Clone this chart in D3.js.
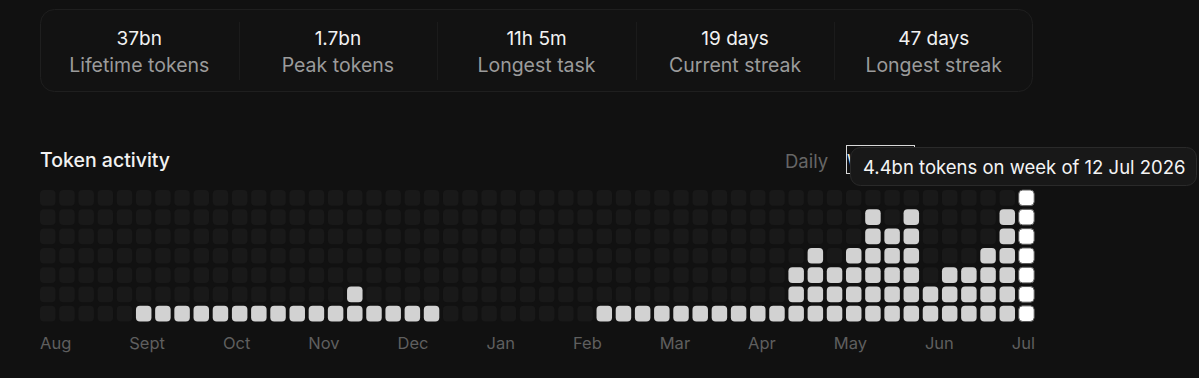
<!DOCTYPE html>
<html>
<head>
<meta charset="utf-8">
<script src="https://cdn.jsdelivr.net/npm/d3@7"></script>
<style>
  html, body { margin: 0; padding: 0; background: #111111; }
  svg { display: block; font-family: Inter, "Noto Sans", sans-serif; }
</style>
</head>
<body>
<div id="chart"></div>
<script>
var w = 1199,
    h = 378;

// stats row
var statValues = ["37bn", "1.7bn", "11h 5m", "19 days", "47 days"];
var statLabels = ["Lifetime tokens", "Peak tokens", "Longest task", "Current streak", "Longest streak"];

// month tick labels
var months = ["Aug", "Sept", "Oct", "Nov", "Dec", "Jan", "Feb", "Mar", "Apr", "May", "Jun", "Jul"];

// weekly tokens in bn, oldest first (52 weeks)
var weekTokens = [
    0, 0, 0, 0, 0,
    0.12, 0.18, 0.15, 0.2, 0.14, 0.16, 0.22, 0.19, 0.13, 0.17, 0.21, 0.8, 0.16, 0.14, 0.18, 0.12,
    0, 0, 0, 0, 0, 0, 0, 0,
    0.22, 0.3, 0.26, 0.19, 0.28, 0.33, 0.24, 0.27, 0.35, 0.4,
    1.5, 2.2, 1.6, 2.0, 3.4, 2.9, 3.6, 1.1, 1.5, 1.7, 2.4, 3.5, 4.4
];
var lastWeek = new Date(2026, 6, 12);
var rows = 7;

var svg = d3.select("#chart").append("svg")
    .attr("width", w)
    .attr("height", h);

svg.append("rect").attr("width", w).attr("height", h).attr("fill", "#111111");

// ---- stats box
var sx = d3.scaleBand().domain(d3.range(statValues.length)).range([40, 1033]);

svg.append("rect")
    .attr("x", 40.5).attr("y", 9.5)
    .attr("width", 992).attr("height", 82)
    .attr("rx", 14)
    .attr("fill", "#121212")
    .attr("stroke", "#1f1f1f");

svg.selectAll(".divider")
    .data(d3.range(1, statValues.length))
    .enter().append("line")
    .attr("class", "divider")
    .attr("x1", function (d) { return Math.round(sx(d)) + 0.5; })
    .attr("x2", function (d) { return Math.round(sx(d)) + 0.5; })
    .attr("y1", 22).attr("y2", 80)
    .attr("stroke", "#1b1b1b");

svg.selectAll(".statval")
    .data(statValues)
    .enter().append("text")
    .attr("class", "statval")
    .attr("x", function (d, i) { return sx(i) + sx.bandwidth() / 2; })
    .attr("y", 45)
    .attr("text-anchor", "middle")
    .style("font-size", "19px")
    .attr("fill", "#f2f2f2")
    .text(function (d) { return d; });

svg.selectAll(".statlabel")
    .data(statLabels)
    .enter().append("text")
    .attr("class", "statlabel")
    .attr("x", function (d, i) { return sx(i) + sx.bandwidth() / 2; })
    .attr("y", 72)
    .attr("text-anchor", "middle")
    .style("font-size", "19.5px")
    .attr("fill", "#9b9b9b")
    .text(function (d) { return d; });

// ---- header
svg.append("text")
    .attr("x", 40).attr("y", 167)
    .style("font-size", "19.5px")
    .style("font-weight", 500)
    .attr("fill", "#f2f2f2")
    .text("Token activity");

svg.append("text")
    .attr("x", 785).attr("y", 168)
    .style("font-size", "18.5px")
    .attr("fill", "#666666")
    .text("Daily");

// selected toggle, mostly hidden behind the tooltip
svg.append("clipPath").attr("id", "toggle-clip")
    .append("rect").attr("x", 846).attr("y", 140).attr("width", 5).attr("height", 40);

svg.append("text")
    .attr("x", 847).attr("y", 168)
    .attr("clip-path", "url(#toggle-clip)")
    .style("font-size", "18.5px")
    .attr("fill", "#e8e8e8")
    .text("Weekly");

svg.append("rect")
    .attr("x", 846.5).attr("y", 145.5)
    .attr("width", 68).attr("height", 28)
    .attr("fill", "none")
    .attr("stroke", "#d8d8d8");

// ---- grid
var x = d3.scaleBand().domain(d3.range(weekTokens.length)).range([40, 1034.2]).paddingInner(0.192),
    y = d3.scaleBand().domain(d3.range(rows).reverse()).range([190, 321.5]).paddingInner(0.19),
    level = d3.scaleLinear().domain([0, d3.max(weekTokens)]).range([0, rows]);

var cells = [];
weekTokens.forEach(function (v, i) {
    var n = Math.ceil(level(v));
    d3.range(rows).forEach(function (r) {
        cells.push({ week: i, row: r, on: r < n, last: i === weekTokens.length - 1 });
    });
});

svg.selectAll(".cell")
    .data(cells)
    .enter().append("rect")
    .attr("class", "cell")
    .attr("x", function (d) { return x(d.week); })
    .attr("y", function (d) { return y(d.row); })
    .attr("width", x.bandwidth())
    .attr("height", y.bandwidth())
    .attr("rx", 4)
    .attr("fill", function (d) {
        if (!d.on) return "#191919";
        return d.last ? "#ffffff" : "#d2d2d2";
    })
    .attr("stroke", function (d) { return d.on && d.last ? "#5a5a5a" : "none"; })
    .attr("stroke-width", 1);

// ---- month labels (spread edge to edge)
var mlabels = svg.selectAll(".month")
    .data(months)
    .enter().append("text")
    .attr("class", "month")
    .attr("y", 349)
    .style("font-size", "16.5px")
    .attr("fill", "#5f5f5f")
    .text(function (d) { return d; });

var widths = [];
mlabels.each(function () { widths.push(this.getComputedTextLength()); });
var gap = (1035 - 40 - d3.sum(widths)) / (months.length - 1);
var pos = 40;
mlabels.attr("x", function (d, i) {
    var p = pos;
    pos += widths[i] + gap;
    return p;
});

// ---- tooltip for the latest week
var fmtDate = d3.timeFormat("%-d %b %Y");
var lastVal = weekTokens[weekTokens.length - 1];

svg.append("rect")
    .attr("x", 850.5).attr("y", 147.5)
    .attr("width", 346).attr("height", 38)
    .attr("rx", 10)
    .attr("fill", "#181818")
    .attr("stroke", "#2a2a2a");

svg.append("text")
    .attr("x", 863).attr("y", 174)
    .style("font-size", "18.5px")
    .attr("fill", "#f4f4f4")
    .text(d3.format(".1f")(lastVal) + "bn tokens on week of " + fmtDate(lastWeek));
</script>
</body>
</html>
